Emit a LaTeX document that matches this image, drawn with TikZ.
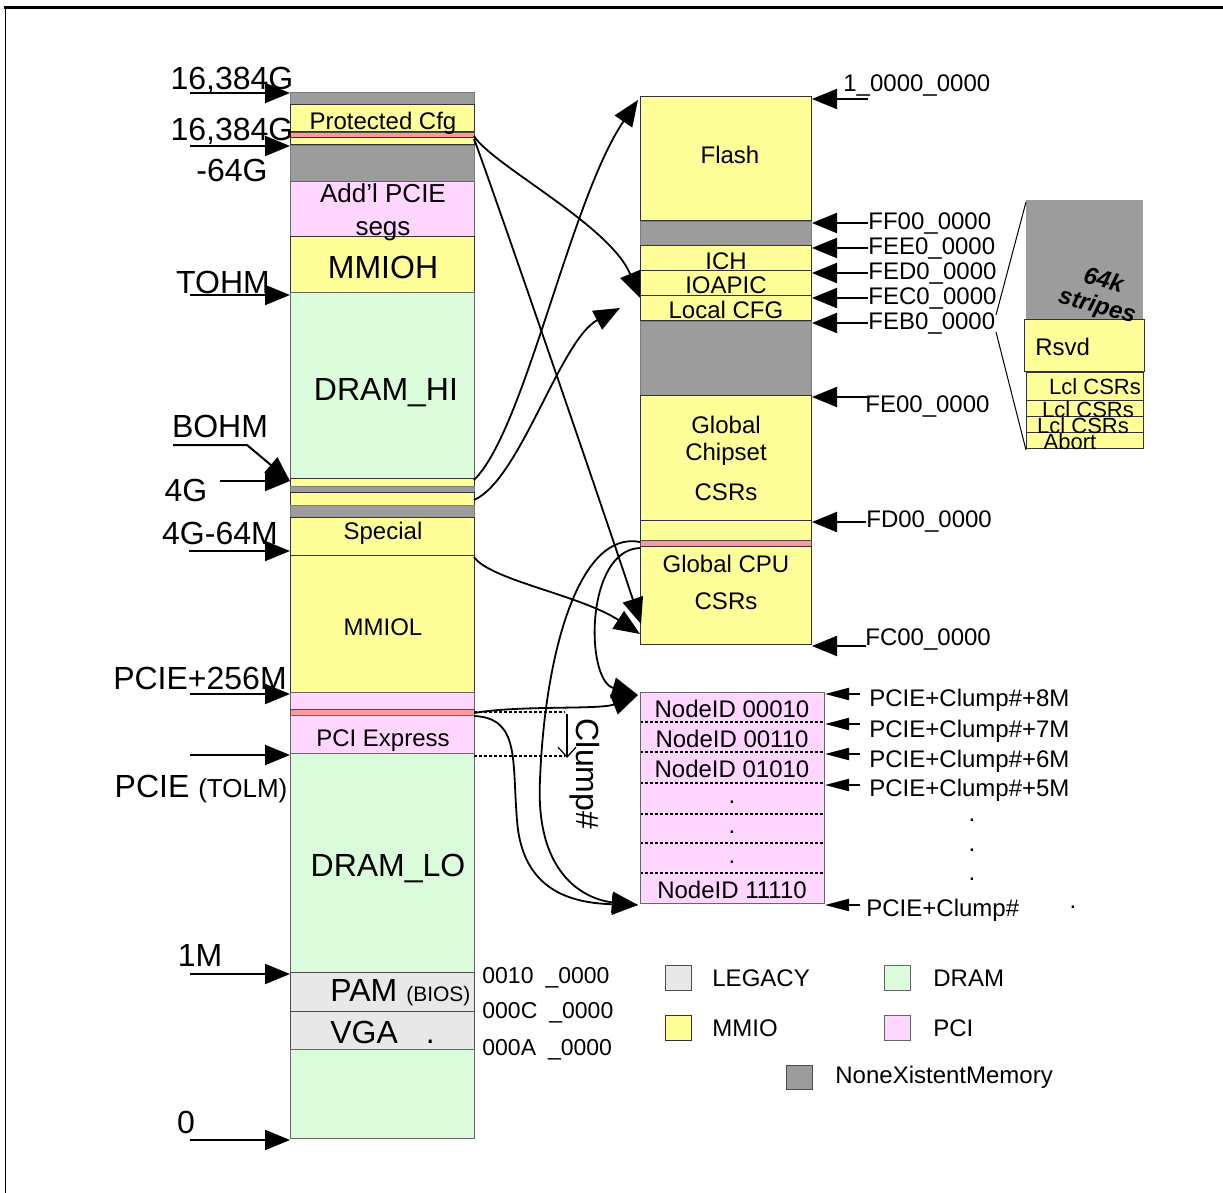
\documentclass[tikz,border=0pt]{standalone}
\usepackage{fontspec}
\setmainfont{Liberation Sans}
\usetikzlibrary{arrows.meta,positioning}
\definecolor{nxmgray}{HTML}{9C9C9C}
\definecolor{mmioyel}{HTML}{FFFF99}
\definecolor{pcipink}{HTML}{FFD6FF}
\definecolor{dramgrn}{HTML}{DAFCDA}
\definecolor{legacygr}{HTML}{E8E8E8}
\definecolor{hotred}{HTML}{FF9999}

\begin{document}
\begin{tikzpicture}[x=0.5pt,y=-0.5pt,
  every node/.append style={yshift=-1pt},
  nxm/.style={fill=nxmgray,draw=nxmgray!80!black,line width=0.3pt},
  mmio/.style={fill=mmioyel,draw=black!80,line width=0.5pt},
  pci/.style={fill=pcipink,draw=black!60,line width=0.5pt},
  dram/.style={fill=dramgrn,draw=black!60,line width=0.5pt},
  legacy/.style={fill=legacygr,draw=black!70,line width=0.5pt},
  hot/.style={fill=hotred,draw=black!70,line width=0.4pt},
  big/.style={font=\fontsize{16}{19}\selectfont},
  mid/.style={font=\fontsize{12}{14}\selectfont},
  sml/.style={font=\fontsize{11}{13}\selectfont},
  ptr/.style={-{Triangle[length=12.5pt,width=10pt]},line width=1pt},
  thinptr/.style={-{Triangle[length=12pt,width=6pt]},line width=1pt},
  wire/.style={-{Triangle[length=13pt,width=10.5pt]},line width=0.9pt},
  dots/.style={dash pattern=on 1.5pt off 1pt,line width=1pt}]
 \useasboundingbox (0,0) rectangle (1223,1193);
 \draw[line width=0.5pt] (5,1193) -- (5,8);
 \draw[line width=1.5pt] (4,8) -- (1223,8);

 % system address map
 \foreach \ya/\yb/\kind in {92/105/nxm, 105/132/mmio, 132/138/hot, 138/145/mmio,
   145/182/nxm, 182/237/pci, 237/293/mmio, 293/478/dram, 478/486/mmio, 486/492/nxm,
   492/505/mmio, 505/517/nxm, 517/555/mmio, 555/692/mmio, 692/709/pci, 709/715/hot,
   715/753/pci, 753/972/dram, 972/1011/legacy, 1011/1049/legacy, 1049/1138/dram}
  \draw[\kind] (290,\ya) rectangle (474,\yb);
 \node[mid] (pcfg) at (383,121) {Protected Cfg};
 \node[font=\fontsize{13}{16.5}\selectfont,align=center] (addl) at (383,210) {Add’l PCIE\\segs};
 \node[big] (mmioh) at (383,265) {MMIOH};
 \node[big] (dramhi) at (386,391) {DRAM\_HI};
 \node[mid] (special) at (383,531) {Special};
 \node[mid] (mmiol) at (383,625) {MMIOL};
 \node[mid] (pciex) at (383,739) {PCI Express};
 \node[big] (dramlo) at (388,867) {DRAM\_LO};
 \node[big,anchor=west,inner sep=0pt] (pam) at (330,991) {PAM {\fontsize{10.5}{12}\selectfont (BIOS)}};
 \node[big,anchor=west,inner sep=0pt] (vga) at (330,1030) {VGA\hspace{14pt}.};
 \node[font=\fontsize{11.5}{13}\selectfont,anchor=west,inner sep=0pt] (a10) at (482,976) {0010\hspace{6pt}\_0000};
 \node[font=\fontsize{11.5}{13}\selectfont,anchor=west,inner sep=0pt] (a0c) at (482,1011) {000C\hspace{6pt}\_0000};
 \node[font=\fontsize{11.5}{13}\selectfont,anchor=west,inner sep=0pt] (a0a) at (482,1048) {000A\hspace{6pt}\_0000};

 % left side markers
 \node[big] (top1) at (232,78) {16,384G};
 \node[big] (top2) at (232,129) {16,384G};
 \node[big] (top3) at (232,168) {-64G};
 \node[big] (tohm) at (223,280) {TOHM};
 \node[big] (bohm) at (220,424) {BOHM};
 \node[big] (g4) at (186,488) {4G};
 \node[big] (g4m) at (220,531) {4G-64M};
 \node[big] (p256) at (200,676) {PCIE+256M};
 \node[big] (tolm) at (201,787) {PCIE {\fontsize{13}{15}\selectfont(TOLM)}};
 \node[big] (m1) at (200,953) {1M};
 \node[big] (zero) at (186,1120) {0};
 \foreach \y/\t/\n in {91/190/a, 144/190/b, 293/190/c, 479/220/e, 549/189/f,
   692/190/g, 753/190/h, 972/190/i, 1138/190/j} {
  \coordinate (lt-\n) at (\t,\y);
  \coordinate (lh-\n) at (290,\y);
  \draw[ptr] (lt-\n) -- (lh-\n);
 }
 \coordinate (bohm-t) at (173,443);
 \coordinate (bohm-k) at (247,443);
 \draw[ptr] (bohm-t) -- (bohm-k) -- (lh-e);

 % 4G - 64M region
 \foreach \ya/\yb/\kind in {97/221/mmio, 221/246/nxm, 246/271/mmio, 271/296/mmio,
   296/321/mmio, 321/395/nxm, 395/520/mmio, 520/540/mmio, 540/546/hot, 546/644/mmio}
  \draw[\kind] (640,\ya) rectangle (811,\yb);
 \node[mid] (flash) at (730,153) {Flash};
 \node[mid] (ich) at (726,259) {ICH};
 \node[mid] (ioapic) at (726,283) {IOAPIC};
 \node[mid] (lcfg) at (726,308) {Local CFG};
 \node[mid] (gcs1) at (726,423) {Global};
 \node[mid] (gcs2) at (726,452) {Chipset};
 \node[mid] (gcs3) at (726,490) {CSRs};
 \node[mid] (gcpu1) at (726,562) {Global CPU};
 \node[mid] (gcpu2) at (726,599) {CSRs};
 \node[mid,anchor=west,inner sep=0pt] (h1) at (843,84) {1\_0000\_0000};
 \node[mid,anchor=west,inner sep=0pt] (hff) at (868,222) {FF00\_0000};
 \node[mid,anchor=west,inner sep=0pt] (hee) at (868,247) {FEE0\_0000};
 \node[mid,anchor=west,inner sep=0pt] (hed) at (868,272) {FED0\_0000};
 \node[mid,anchor=west,inner sep=0pt] (hec) at (868,297) {FEC0\_0000};
 \node[mid,anchor=west,inner sep=0pt] (heb) at (868,322) {FEB0\_0000};
 \node[mid,anchor=west,inner sep=0pt] (he0) at (865,405) {FE00\_0000};
 \node[mid,anchor=west,inner sep=0pt] (hd0) at (866,520) {FD00\_0000};
 \node[mid,anchor=west,inner sep=0pt] (hc0) at (865,638) {FC00\_0000};
 \foreach \y/\t in {97/868, 221/868, 246/868, 271/868, 296/868, 321/868,
   395/870, 520/866, 644/866} {
  \coordinate (rt-\y) at (\t,\y);
  \coordinate (rh-\y) at (812,\y);
  \draw[ptr] (rt-\y) -- (rh-\y);
 }

 % local cfg blow-up
 \fill[nxmgray] (1026,200) rectangle (1143,320);
 \draw[mmio] (1024,320) rectangle (1144,371);
 \foreach \ya/\yb in {372/400, 400/416, 416/432, 432/448}
  \draw[mmio] (1026,\ya) rectangle (1143,\yb);
 \node[font=\fontsize{12}{14}\selectfont\bfseries\itshape,rotate=-15,inner sep=0pt] (k64) at (1104,277) {64k};
 \node[font=\fontsize{12}{14}\selectfont\bfseries\itshape,rotate=-15,inner sep=0pt] (strp) at (1097,305) {stripes};
 \node[mid,anchor=west,inner sep=0pt] (rsvd) at (1035,345) {Rsvd};
 \node[sml,inner sep=0pt] (lcl1) at (1095,385) {Lcl CSRs};
 \node[sml,inner sep=0pt] (lcl2) at (1088,408) {Lcl CSRs};
 \node[sml,inner sep=0pt] (lcl3) at (1083,424) {Lcl CSRs};
 \node[sml,inner sep=0pt] (abort) at (1070,440) {Abort};
 \coordinate (zt) at (1026,200);
 \coordinate (zm1) at (996,313);
 \coordinate (zm2) at (996,330);
 \coordinate (zb) at (1026,448);
 \draw[line width=0.5pt] (zt) -- (zm1);
 \draw[line width=0.5pt] (zm2) -- (zb);

 % node id clumps
 \fill[pcipink] (640,692) rectangle (824,903);
 \foreach \y in {722,752,783,814,843,873}
  \draw[dots] (640,\y) -- (824,\y);
 \draw[black!60,line width=0.5pt] (640,692) rectangle (824,903);
 \node[mid] (n1) at (732,707) {NodeID 00010};
 \node[mid] (n2) at (732,737) {NodeID 00110};
 \node[mid] (n3) at (732,767) {NodeID 01010};
 \node[mid] (d1) at (732,800) {.};
 \node[mid] (d2) at (732,830) {.};
 \node[mid] (d3) at (732,860) {.};
 \node[mid] (n4) at (732,888) {NodeID 11110};
 \node[mid,anchor=west,inner sep=0pt] (c8) at (869,698) {PCIE+Clump\#+8M};
 \node[mid,anchor=west,inner sep=0pt] (c7) at (869,729) {PCIE+Clump\#+7M};
 \node[mid,anchor=west,inner sep=0pt] (c6) at (869,759) {PCIE+Clump\#+6M};
 \node[mid,anchor=west,inner sep=0pt] (c5) at (869,788) {PCIE+Clump\#+5M};
 \node[mid] (e1) at (972,818) {.};
 \node[mid] (e2) at (972,848) {.};
 \node[mid] (e3) at (972,877) {.};
 \node[mid,anchor=west,inner sep=0pt] (c0) at (866,908) {PCIE+Clump\#};
 \node[mid] (e4) at (1073,905) {.};
 \foreach \y in {692,722,752,783,903} {
  \coordinate (nt-\y) at (860,\y);
  \coordinate (nh-\y) at (825,\y);
  \draw[thinptr] (nt-\y) -- (nh-\y);
 }

 % clump size
 \coordinate (cl-a) at (474,710);
 \coordinate (cl-b) at (474,754);
 \coordinate (cl-c) at (565,710);
 \coordinate (cl-d) at (565,754);
 \draw[dots] (cl-a) -- (cl-c);
 \draw[dots] (cl-b) -- (cl-d);
 \coordinate (cl-t) at (567,712);
 \coordinate (cl-h) at (567,756);
 \draw[-{Straight Barb[length=5pt,width=9pt]},line width=0.6pt] (cl-t) -- (cl-h);
 \node[big,rotate=-90] (clump) at (585,772) {Clump\#};

 % mapping arrows
 \coordinate (pc-a) at (474,134);
 \coordinate (pc-b) at (474,137);
 \coordinate (io-in) at (640,296);
 \coordinate (cpu-in) at (641,622);
 \coordinate (hi-a) at (474,478);
 \coordinate (fl-in) at (638,98);
 \coordinate (hi-b) at (474,498);
 \coordinate (lc-in) at (620,306);
 \coordinate (ml-a) at (474,555);
 \coordinate (cpu-in2) at (640,632);
 \coordinate (gc-a) at (640,540);
 \coordinate (gc-b) at (640,546);
 \coordinate (nd-top) at (638,693);
 \coordinate (nd-bot) at (638,903);
 \coordinate (px-a) at (474,711);
 \coordinate (px-b) at (474,714);
 \draw[wire] (pc-a) .. controls (492,165) and (610,225) .. (io-in);
 \draw[wire] (pc-b) .. controls (488,175) and (600,500) .. (cpu-in);
 \draw[wire] (hi-a) .. controls (525,430) and (570,200) .. (fl-in);
 \draw[wire] (hi-b) .. controls (520,480) and (560,340) .. (lc-in);
 \draw[wire] (ml-a) .. controls (490,580) and (580,595) .. (cpu-in2);
 \draw[wire] (gc-a) .. controls (580,530) and (545,650) .. (540,780)
   .. controls (535,880) and (590,900) .. (nd-bot);
 \draw[wire] (gc-b) .. controls (585,550) and (585,680) .. (nd-top);
 \draw[wire] (px-a) .. controls (520,705) and (600,710) .. (nd-top);
 \draw[wire] (px-b) .. controls (520,718) and (512,760) .. (517,820)
   .. controls (522,890) and (570,903) .. (nd-bot);

 % legend
 \draw[legacy] (665,965) rectangle (691,990);
 \draw[dram] (884,965) rectangle (910,990);
 \draw[mmio] (665,1015) rectangle (691,1040);
 \draw[pci] (884,1015) rectangle (910,1040);
 \draw[nxm,draw=black!70] (786,1065) rectangle (812,1089);
 \node[mid,anchor=west,inner sep=0pt] (lg1) at (712,976) {LEGACY};
 \node[mid,anchor=west,inner sep=0pt] (lg2) at (933,976) {DRAM};
 \node[mid,anchor=west,inner sep=0pt] (lg3) at (712,1026) {MMIO};
 \node[mid,anchor=west,inner sep=0pt] (lg4) at (933,1026) {PCI};
 \node[mid,anchor=west,inner sep=0pt] (lg5) at (835,1075) {NoneXistentMemory};
\end{tikzpicture}
\end{document}
